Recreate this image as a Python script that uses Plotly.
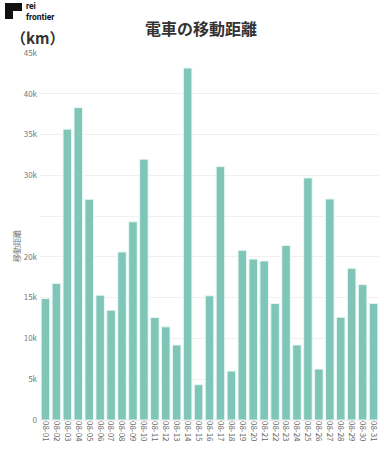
import plotly.graph_objects as go

dates = [f"08-{d:02d}" for d in range(1, 32)]
distance = [14900, 16740, 35660, 38300, 27060, 15300, 13460, 20600, 24300, 31980,
            12560, 11420, 9200, 43160, 4330, 15230, 31070, 6000, 20800, 19730,
            19500, 14280, 21400, 9200, 29680, 6250, 27100, 12600, 18600, 16600, 14300]

y_tickvals = [0, 5000, 10000, 15000, 20000, 25000, 30000, 35000, 40000, 45000]
y_ticktext = ["0", "5k", "10k", "15k", "20k", "", "30k", "35k", "40k", "45k"]

W, H = 384, 450
L, R, T, B = 40, 5, 53, 30
PW, PH = W - L - R, H - T - B

def px(x):
    return (x - L) / PW

def py(y):
    return (H - B - y) / PH

CJK = "Noto Sans CJK JP, Noto Sans, sans-serif"

fig = go.Figure(go.Bar(
    x=dates, y=distance,
    marker=dict(color="#7fc6b8", line=dict(color="rgba(235,250,246,0.9)", width=1)),
))

fig.update_layout(
    width=W, height=H,
    margin=dict(l=L, r=R, t=T, b=B, autoexpand=False),
    paper_bgcolor="white", plot_bgcolor="white",
    bargap=0.22,
    showlegend=False,
    font=dict(family=CJK, color="#666"),
)
fig.update_xaxes(
    type="category", automargin=False,
    tickangle=90, tickfont=dict(size=8, color="#666", family=CJK),
    showgrid=False, showline=False, ticks="",
)
fig.update_yaxes(
    automargin=False,
    range=[0, 45000], tickvals=y_tickvals, ticktext=y_ticktext,
    tickfont=dict(size=8, color="#777", family=CJK),
    showgrid=True, gridcolor="#f0f0f0", gridwidth=1,
    zeroline=True, zerolinecolor="#eeeeee", zerolinewidth=1,
    ticks="", ticklabelstandoff=2,
)

ann = [
    dict(text="電車の移動距離", x=px(201), y=py(28), xref="paper", yref="paper",
         showarrow=False, xanchor="center", yanchor="middle",
         font=dict(size=16, color="#333", family=CJK, weight="bold")),
    dict(text="（km）", x=px(9), y=py(37.5), xref="paper", yref="paper",
         showarrow=False, xanchor="left", yanchor="middle",
         font=dict(size=15, color="#333", family=CJK, weight="bold")),
    dict(text="移動距離", x=px(16), y=py(246), xref="paper", yref="paper",
         showarrow=False, xanchor="center", yanchor="middle", textangle=-90,
         font=dict(size=8, color="#777", family=CJK)),
    dict(text="rei<br>frontier", x=px(24), y=py(11), xref="paper", yref="paper",
         showarrow=False, xanchor="left", yanchor="middle", align="left",
         font=dict(size=8.5, color="#111", family="Roboto, sans-serif", weight="bold")),
]
fig.update_layout(annotations=ann)

# logo icon
x0, x1, y0, y1 = px(5), px(22), py(19), py(3)
xm, ym = px(13), py(11)
path = (f"M {x0},{y0} L {x0},{y1} L {x1},{y1} L {x1},{ym} "
        f"L {xm},{ym} L {xm},{y0} Z")
fig.add_shape(type="path", path=path, xref="paper", yref="paper",
              fillcolor="#111", line=dict(width=0))

fig.write_html("out.html",
               config={"displayModeBar": False},
               post_script="document.body.style.margin='0';document.body.style.overflow='hidden';")
